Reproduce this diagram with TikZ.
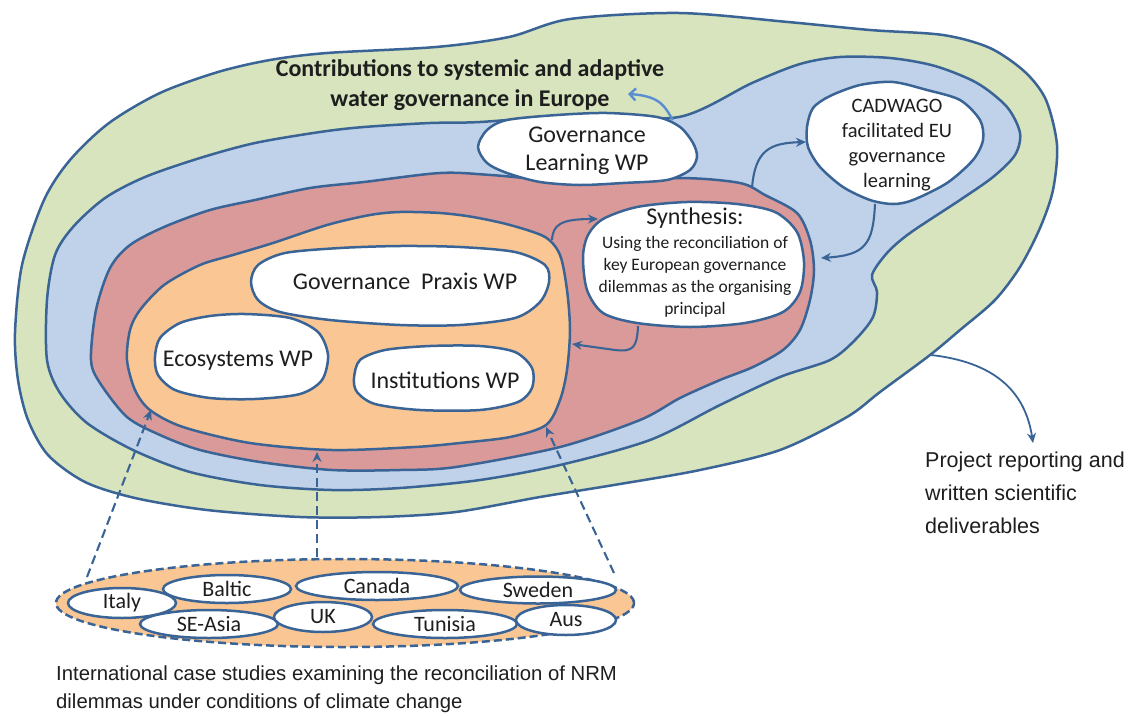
\documentclass[tikz,border=0pt]{standalone}
\usepackage{fontspec}
\setmainfont{Carlito}
\newfontfamily\arialf{Liberation Sans}
\usetikzlibrary{shapes.geometric,arrows.meta}
\definecolor{edge}{HTML}{3A6496}
\definecolor{gfill}{HTML}{D7E4BD}
\definecolor{bfill}{HTML}{BFD2E9}
\definecolor{rfill}{HTML}{DA9A99}
\definecolor{ofill}{HTML}{FAC794}
\definecolor{lightarr}{HTML}{5A8ED0}
\definecolor{txt}{HTML}{1E1E1E}
\begin{document}
\begin{tikzpicture}[x=1pt,y=-1pt,
  region/.style={draw=edge,line width=2.5pt,line join=round},
  blob/.style={draw=edge,line width=2.5pt,fill=white,line join=round},
  lbl/.style={text=txt,inner sep=0pt,align=center},
  ctry/.style={ellipse,draw=edge,line width=2.5pt,fill=white,inner sep=0pt,text=txt,font=\fontsize{22}{24}\selectfont},
  arr/.style={draw=edge,line width=2.1pt,-{Stealth[length=10pt,width=9pt]}},
  darr/.style={arr,dash pattern=on 9pt off 5pt},
]
\useasboundingbox (0,0) rectangle (1140,715);
\fill[white] (0,0) rectangle (1140,715);

% outer green region
\draw[region,fill=gfill] plot[smooth cycle] coordinates {(15,333) (22,265) (44,200) (70,160) (109,123) (160,93) (218,72) (270,60) (327,53) (436,47) (509,37) (570,19) (679,13) (788,22) (870,30) (943,35) (990,48) (1025,72) (1046,100) (1057,145) (1053,190) (1040,228) (1020,267) (995,300) (960,330) (930,355) (880,392) (847,417) (780,450) (700,470) (620,484) (540,497) (456,512) (380,517) (300,517) (207,510) (135,498) (85,482) (48,455) (28,420) (18,380)};

% blue region
\draw[region,fill=bfill] plot[smooth cycle] coordinates {(47,360) (47,300) (55,255) (73,227) (105,198) (145,177) (200,158) (255,143) (320,132) (364,127) (430,123) (480,122) (580,115) (679,117) (752,83) (800,64) (840,57) (890,58) (935,66) (977,83) (1007,107) (1020,133) (1015,155) (993,177) (960,200) (910,233) (887,253) (872,275) (877,292) (873,317) (855,340) (830,360) (780,377) (720,405) (650,440) (560,465) (480,480) (400,488) (332,490) (260,485) (190,472) (133,450) (87,423) (60,393)};

% red region
\draw[region,fill=rfill] plot[smooth cycle] coordinates {(91,360) (96,310) (110,268) (130,245) (164,227) (210,210) (255,200) (310,188) (364,182) (440,173) (491,175) (580,182) (680,178) (740,183) (765,195) (797,213) (810,240) (814,270) (810,300) (800,330) (783,350) (753,367) (720,380) (680,398) (640,420) (560,447) (456,467) (400,470) (332,470) (260,462) (200,450) (160,435) (127,417) (100,383)};

% orange region
\draw[region,fill=ofill] plot[smooth cycle] coordinates {(127,360) (130,330) (140,310) (164,285) (200,265) (233,255) (273,243) (327,225) (370,215) (400,212) (440,213) (473,217) (510,225) (545,237) (560,255) (567,290) (570,330) (567,370) (560,400) (546,425) (510,437) (460,443) (415,447) (332,450) (250,443) (183,427) (150,410) (135,390)};

% white blobs
\draw[blob] plot[smooth cycle] coordinates {(478,147) (487,130) (507,120) (557,115) (607,113) (657,117) (680,127) (693,143) (697,157) (690,170) (667,180) (623,183) (580,185) (540,182) (507,173) (487,163)};
\draw[blob] plot[smooth cycle] coordinates {(807,127) (813,108) (830,96) (860,85) (893,82) (927,90) (960,100) (980,120) (983,140) (973,160) (947,183) (913,200) (893,204) (870,200) (843,187) (820,167) (808,147)};
\draw[blob] plot[smooth cycle] coordinates {(583,257) (588,235) (603,219) (637,207) (687,202) (737,204) (775,212) (797,232) (804,262) (800,292) (783,312) (745,323) (690,327) (637,323) (603,313) (587,290)};
\draw[blob] plot[smooth cycle] coordinates {(251,282) (258,265) (285,253) (340,248) (400,246) (460,247) (515,252) (545,265) (549,282) (540,302) (515,318) (460,325) (400,325) (330,320) (280,312) (258,300)};
\draw[blob] plot[smooth cycle] coordinates {(155,357) (160,338) (180,323) (210,316) (245,314) (290,318) (318,332) (328,355) (322,380) (300,394) (255,399) (210,398) (175,390) (158,375)};
\draw[blob] plot[smooth cycle] coordinates {(354,378) (360,360) (385,350) (430,346) (480,346) (515,352) (532,368) (532,388) (518,402) (480,410) (420,410) (375,404) (357,392)};

% texts
\node[lbl,font=\bfseries\fontsize{24}{30}\selectfont] (title) at (470,85) {Contributions to systemic and adaptive\\water governance in Europe};
\node[lbl,font=\fontsize{24}{28}\selectfont] (gl) at (587,151) {Governance\\Learning WP};
\node[lbl,font=\fontsize{20.5}{25}\selectfont] (cad) at (897,145) {CADWAGO\\facilitated EU\\governance\\learning};
\node[lbl,font=\fontsize{24}{28}\selectfont,anchor=north] (syn) at (695,208) {Synthesis:};
\node[lbl,font=\fontsize{17.5}{22}\selectfont,anchor=north] (synb) at (695,236) {Using the reconciliation of\\key European governance\\dilemmas as the organising\\principal};
\node[lbl,font=\fontsize{24}{28}\selectfont] (gp) at (405,281) {Governance\ \ Praxis WP};
\node[lbl,font=\fontsize{24}{28}\selectfont] (eco) at (238,361) {Ecosystems WP};
\node[lbl,font=\fontsize{24}{28}\selectfont] (inst) at (445,380) {Institutions WP};
\node[lbl,align=left,anchor=west,font=\arialf\fontsize{21.5}{33}\selectfont] (proj) at (925,493) {Project reporting and\\written scientific\\deliverables};
\node[lbl,align=left,anchor=west,font=\arialf\fontsize{20.3}{28}\selectfont] (intl) at (56,689) {International case studies examining the reconciliation of NRM\\dilemmas under conditions of climate change};

% case studies
\node[ellipse,draw=edge,line width=2.5pt,fill=ofill,dash pattern=on 8pt off 4pt,minimum width=578,minimum height=88,inner sep=0pt] (cases) at (345,603) {};
\node[ctry,minimum width=108,minimum height=30] (italy) at (122,603) {Italy};
\node[ctry,minimum width=128,minimum height=28] (baltic) at (227,589) {Baltic};
\node[ctry,minimum width=162,minimum height=28] (canada) at (377,586) {Canada};
\node[ctry,minimum width=156,minimum height=27] (sweden) at (538,590) {Sweden};
\node[ctry,minimum width=138,minimum height=28] (seasia) at (209,624) {SE-Asia};
\node[ctry,minimum width=98,minimum height=30] (uk) at (323,617) {UK};
\node[ctry,minimum width=144,minimum height=28] (tunisia) at (445,624) {Tunisia};
\node[ctry,minimum width=100,minimum height=30] (aus) at (566,620) {Aus};

% connector end points on region boundaries
\coordinate (glc) at (673,120);
\coordinate (ttl) at (628,94);
\coordinate (orgTop) at (552,240);
\coordinate (synL) at (598,219);
\coordinate (synB) at (638,326);
\coordinate (orgR) at (572,344);
\coordinate (redTop) at (752,188);
\coordinate (cadL) at (806,142);
\coordinate (cadB) at (875,204);
\coordinate (redR) at (821,258);
\coordinate (grnR) at (931,355);
\coordinate (projT) at (1033,443);
\coordinate (caseL) at (87,577);
\coordinate (orgBL) at (151,410);
\coordinate (caseM) at (317,557);
\coordinate (orgB) at (317,452);
\coordinate (caseR) at (614,573);
\coordinate (orgBR) at (546,427);

% connectors
\draw[draw=lightarr,line width=2.4pt,-{Straight Barb[length=6pt,width=12pt]}] (glc) .. controls (665,108) and (662,96) .. (ttl);
\draw[arr] (orgTop) .. controls (553,225) and (560,219) .. (synL);
\draw[arr] (synB) .. controls (637,348) and (633,352) .. (615,350) -- (orgR);
\draw[arr] (redTop) .. controls (755,150) and (770,143) .. (cadL);
\draw[arr] (cadB) .. controls (873,245) and (865,255) .. (redR);
\draw[arr,line width=1.8pt] (grnR) .. controls (993,362) and (1025,390) .. (projT);
\draw[darr] (caseL) -- (orgBL);
\draw[darr] (caseM) -- (orgB);
\draw[darr] (caseR) -- (orgBR);
\end{tikzpicture}
\end{document}
